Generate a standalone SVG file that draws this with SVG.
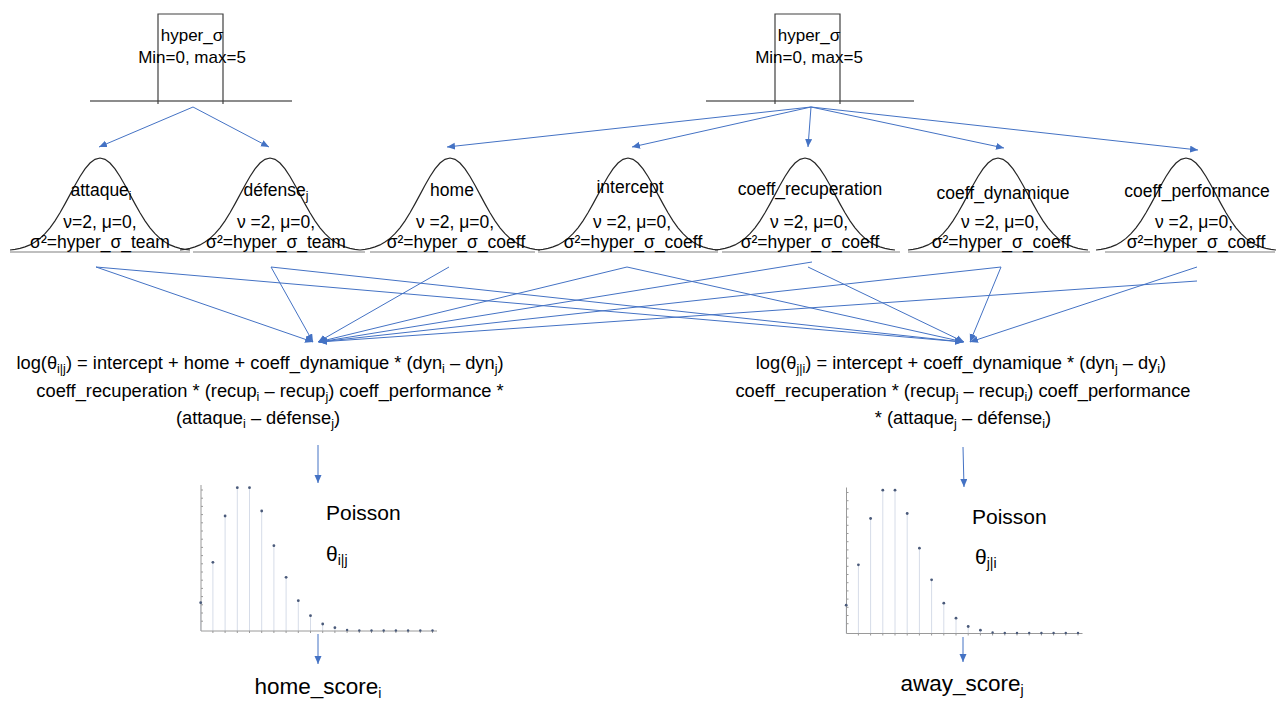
<svg xmlns="http://www.w3.org/2000/svg" xmlns:xlink="http://www.w3.org/1999/xlink" width="1280" height="720" viewBox="0 0 1280 720">
<style>
text{font-family:"Liberation Sans","DejaVu Sans",sans-serif;fill:#000}
.h{font-size:17px}
.b{font-size:17.5px}
.f{font-size:18.3px}
.big{font-size:21px}
.sc{font-size:22.5px}
.bell{fill:none;stroke:#262626;stroke-width:1.2}
.base{stroke:#bfbfbf;stroke-width:2}
.hb{stroke:#8c8c8c;stroke-width:2}
.box{fill:none;stroke:#404040;stroke-width:1.2}
.c{stroke:#4472C4;stroke-width:1;fill:none;marker-end:url(#ah)}
.ax{stroke:#9a9a9a;stroke-width:1;fill:none}
.stem{stroke:#d6dce8;stroke-width:1}
.dot{fill:#4a5a7a}
</style>
<defs>
<marker id="ah" markerUnits="userSpaceOnUse" markerWidth="9" markerHeight="8" refX="8" refY="3.5" orient="auto">
<path d="M0,0 L8,3.5 L0,7 z" fill="#4472C4"/>
</marker>
<path id="bellp" d="M-90,-1 L-85,-1.7 L-80,-2.7 L-75,-4.1 L-70,-6.1 L-65,-8.9 L-60,-12.6 L-55,-17.3 L-50,-23.2 L-45,-30.2 L-40,-38.2 L-35,-47.1 L-30,-56.4 L-25,-65.7 L-20,-74.5 L-15,-82.1 L-10,-88 L-5,-91.7 L0,-93 L5,-91.7 L10,-88 L15,-82.1 L20,-74.5 L25,-65.7 L30,-56.4 L35,-47.1 L40,-38.2 L45,-30.2 L50,-23.2 L55,-17.3 L60,-12.6 L65,-8.9 L70,-6.1 L75,-4.1 L80,-2.7 L85,-1.7 L90,-1"/>
<g id="chart">
<line class="stem" x1="200.7" y1="631" x2="200.7" y2="602.7"/>
<line class="stem" x1="212.9" y1="631" x2="212.9" y2="562.3"/>
<line class="stem" x1="225.1" y1="631" x2="225.1" y2="516"/>
<line class="stem" x1="237.3" y1="631" x2="237.3" y2="487.7"/>
<line class="stem" x1="249.5" y1="631" x2="249.5" y2="487.7"/>
<line class="stem" x1="261.7" y1="631" x2="261.7" y2="511"/>
<line class="stem" x1="273.9" y1="631" x2="273.9" y2="545.7"/>
<line class="stem" x1="286.1" y1="631" x2="286.1" y2="577.3"/>
<line class="stem" x1="298.3" y1="631" x2="298.3" y2="600.7"/>
<line class="stem" x1="310.5" y1="631" x2="310.5" y2="615.7"/>
<line class="stem" x1="322.7" y1="631" x2="322.7" y2="624"/>
<line class="stem" x1="334.9" y1="631" x2="334.9" y2="627.7"/>
<path class="ax" d="M201,485 V631 H437"/>
<path class="ax" d="M201,490 h2 M201,498.2 h2 M201,506.4 h2 M201,514.6 h2 M201,522.8 h2 M201,531 h2 M201,539.2 h2 M201,547.4 h2 M201,555.6 h2 M201,563.8 h2 M201,572 h2 M201,580.2 h2 M201,588.4 h2 M201,596.6 h2 M201,604.8 h2 M201,613 h2 M201,621.2 h2"/>
<path class="ax" d="M212.9,631 v2 M225.1,631 v2 M237.3,631 v2 M249.5,631 v2 M261.7,631 v2 M273.9,631 v2 M286.1,631 v2 M298.3,631 v2 M310.5,631 v2 M322.7,631 v2 M334.9,631 v2 M347.1,631 v2 M359.3,631 v2 M371.5,631 v2 M383.7,631 v2 M395.9,631 v2 M408.1,631 v2 M420.3,631 v2 M432.5,631 v2"/>
<circle class="dot" cx="200.7" cy="602.7" r="1.4"/>
<circle class="dot" cx="212.9" cy="562.3" r="1.4"/>
<circle class="dot" cx="225.1" cy="516" r="1.4"/>
<circle class="dot" cx="237.3" cy="487.7" r="1.4"/>
<circle class="dot" cx="249.5" cy="487.7" r="1.4"/>
<circle class="dot" cx="261.7" cy="511" r="1.4"/>
<circle class="dot" cx="273.9" cy="545.7" r="1.4"/>
<circle class="dot" cx="286.1" cy="577.3" r="1.4"/>
<circle class="dot" cx="298.3" cy="600.7" r="1.4"/>
<circle class="dot" cx="310.5" cy="615.7" r="1.4"/>
<circle class="dot" cx="322.7" cy="624" r="1.4"/>
<circle class="dot" cx="334.9" cy="627.7" r="1.4"/>
<circle class="dot" cx="347.1" cy="630" r="1.2"/>
<circle class="dot" cx="359.3" cy="630.5" r="1.2"/>
<circle class="dot" cx="371.5" cy="630.5" r="1.2"/>
<circle class="dot" cx="383.7" cy="630.5" r="1.2"/>
<circle class="dot" cx="395.9" cy="630.5" r="1.2"/>
<circle class="dot" cx="408.1" cy="630.5" r="1.2"/>
<circle class="dot" cx="420.3" cy="630.5" r="1.2"/>
<circle class="dot" cx="432.5" cy="630.5" r="1.2"/>
</g>
</defs>
<rect width="1280" height="720" fill="#fff"/>

<g id="hyper_left">
<line class="hb" x1="90" y1="101" x2="292" y2="101"/>
<path class="box" d="M158,104 V14 H223 V104"/>
<text class="h" x="192" y="41" text-anchor="middle">hyper_σ</text>
<text class="h" x="192" y="63" text-anchor="middle">Min=0, max=5</text>
</g>
<g id="hyper_right">
<line class="hb" x1="706" y1="101" x2="914" y2="101"/>
<path class="box" d="M775,104 V14 H840 V104"/>
<text class="h" x="809" y="41" text-anchor="middle">hyper_σ</text>
<text class="h" x="809" y="63" text-anchor="middle">Min=0, max=5</text>
</g>

<g id="attaque">
<line class="base" x1="10" y1="252" x2="190" y2="252"/>
<use href="#bellp" class="bell" transform="translate(100,251)"/>
<text class="b" x="101" y="196" text-anchor="middle">attaque<tspan font-size="12" dy="4">i</tspan></text>
<text class="b" x="100" y="228" text-anchor="middle">ν=2, μ=0,</text>
<text class="b" x="100" y="248" text-anchor="middle">σ²=hyper_σ_team</text>
</g>
<g id="defense">
<line class="base" x1="193" y1="252" x2="365" y2="252"/>
<use href="#bellp" class="bell" transform="translate(270,251)"/>
<text class="b" x="276" y="196" text-anchor="middle">défense<tspan font-size="12" dy="4">j</tspan></text>
<text class="b" x="276" y="228" text-anchor="middle">ν =2, μ=0,</text>
<text class="b" x="276" y="248" text-anchor="middle">σ²=hyper_σ_team</text>
</g>
<g id="home">
<line class="base" x1="370" y1="252" x2="535" y2="252"/>
<use href="#bellp" class="bell" transform="translate(450,251)"/>
<text class="b" x="452" y="196" text-anchor="middle">home</text>
<text class="b" x="455" y="228" text-anchor="middle">ν =2, μ=0,</text>
<text class="b" x="456" y="248" text-anchor="middle">σ²=hyper_σ_coeff</text>
</g>
<g id="intercept">
<line class="base" x1="538" y1="252" x2="718" y2="252"/>
<use href="#bellp" class="bell" transform="translate(628,251)"/>
<text class="b" x="630" y="193" text-anchor="middle">intercept</text>
<text class="b" x="632" y="228" text-anchor="middle">ν =2, μ=0,</text>
<text class="b" x="633" y="248" text-anchor="middle">σ²=hyper_σ_coeff</text>
</g>
<g id="coeff_recuperation">
<line class="base" x1="722" y1="252" x2="900" y2="252"/>
<use href="#bellp" class="bell" transform="translate(805,251)"/>
<text class="b" x="810" y="195" text-anchor="middle">coeff_recuperation</text>
<text class="b" x="809" y="228" text-anchor="middle">ν =2, μ=0,</text>
<text class="b" x="810" y="248" text-anchor="middle">σ²=hyper_σ_coeff</text>
</g>
<g id="coeff_dynamique">
<line class="base" x1="908" y1="252" x2="1090" y2="252"/>
<use href="#bellp" class="bell" transform="translate(998,251)"/>
<text class="b" x="1003" y="199" text-anchor="middle">coeff_dynamique</text>
<text class="b" x="1000" y="228" text-anchor="middle">ν =2, μ=0,</text>
<text class="b" x="1001" y="248" text-anchor="middle">σ²=hyper_σ_coeff</text>
</g>
<g id="coeff_performance">
<line class="base" x1="1105" y1="252" x2="1275" y2="252"/>
<use href="#bellp" class="bell" transform="translate(1186,251)"/>
<text class="b" x="1197" y="197" text-anchor="middle">coeff_performance</text>
<text class="b" x="1194" y="228" text-anchor="middle">ν =2, μ=0,</text>
<text class="b" x="1196" y="248" text-anchor="middle">σ²=hyper_σ_coeff</text>
</g>

<g id="formula_home">
<text class="f" x="260" y="369" text-anchor="middle">log(θ<tspan font-size="12.5" dy="4">i|j</tspan><tspan dy="-4">) = intercept + home + coeff_dynamique * (dyn</tspan><tspan font-size="12.5" dy="4">i</tspan><tspan dy="-4"> – dyn</tspan><tspan font-size="12.5" dy="4">j</tspan><tspan dy="-4">)</tspan></text>
<text class="f" x="270" y="397" text-anchor="middle">coeff_recuperation * (recup<tspan font-size="12.5" dy="4">i</tspan><tspan dy="-4"> – recup</tspan><tspan font-size="12.5" dy="4">j</tspan><tspan dy="-4">) coeff_performance *</tspan></text>
<text class="f" x="258" y="424" text-anchor="middle">(attaque<tspan font-size="12.5" dy="4">i</tspan><tspan dy="-4"> – défense</tspan><tspan font-size="12.5" dy="4">j</tspan><tspan dy="-4">)</tspan></text>
</g>
<g id="formula_away">
<text class="f" x="961" y="369" text-anchor="middle">log(θ<tspan font-size="12.5" dy="4">j|i</tspan><tspan dy="-4">) = intercept + coeff_dynamique * (dyn</tspan><tspan font-size="12.5" dy="4">j</tspan><tspan dy="-4"> – dy</tspan><tspan font-size="12.5" dy="4">i</tspan><tspan dy="-4">)</tspan></text>
<text class="f" x="963" y="397" text-anchor="middle">coeff_recuperation * (recup<tspan font-size="12.5" dy="4">j</tspan><tspan dy="-4"> – recup</tspan><tspan font-size="12.5" dy="4">i</tspan><tspan dy="-4">) coeff_performance</tspan></text>
<text class="f" x="963" y="424" text-anchor="middle">* (attaque<tspan font-size="12.5" dy="4">j</tspan><tspan dy="-4"> – défense</tspan><tspan font-size="12.5" dy="4">i</tspan><tspan dy="-4">)</tspan></text>
</g>

<g id="poisson_home">
<use href="#chart"/>
<text class="big" x="326" y="520">Poisson</text>
<text class="big" x="326" y="561">θ<tspan font-size="14" dy="4">i|j</tspan></text>
</g>
<g id="poisson_away">
<use href="#chart" transform="translate(645.5,2.5)"/>
<text class="big" x="972" y="524">Poisson</text>
<text class="big" x="975" y="564">θ<tspan font-size="14" dy="4">j|i</tspan></text>
</g>

<g id="home_score">
<text class="sc" x="318" y="694" text-anchor="middle">home_score<tspan font-size="14" dy="4">i</tspan></text>
</g>
<g id="away_score">
<text class="sc" x="962" y="691" text-anchor="middle">away_score<tspan font-size="14" dy="4">j</tspan></text>
</g>

<g id="connectors">
<line class="c" x1="193" y1="107" x2="99" y2="147"/>
<line class="c" x1="193" y1="107" x2="269" y2="147"/>
<line class="c" x1="811" y1="107" x2="447" y2="147"/>
<line class="c" x1="811" y1="107" x2="632" y2="147"/>
<line class="c" x1="811" y1="107" x2="808" y2="147"/>
<line class="c" x1="811" y1="107" x2="1004" y2="148"/>
<line class="c" x1="811" y1="107" x2="1198" y2="150"/>

<line class="c" x1="96" y1="267" x2="313" y2="342"/>
<line class="c" x1="96" y1="267" x2="963" y2="342"/>
<line class="c" x1="271" y1="267" x2="313" y2="342"/>
<line class="c" x1="271" y1="267" x2="963" y2="342"/>
<line class="c" x1="449" y1="267" x2="318" y2="342"/>
<line class="c" x1="627" y1="267" x2="318" y2="342"/>
<line class="c" x1="627" y1="267" x2="964" y2="342"/>
<line class="c" x1="812" y1="262" x2="319" y2="342"/>
<line class="c" x1="808" y1="267" x2="964" y2="342"/>
<line class="c" x1="1001" y1="267" x2="319" y2="342"/>
<line class="c" x1="1001" y1="267" x2="970" y2="342"/>
<line class="c" x1="1197" y1="267" x2="970" y2="342"/>
<line class="c" x1="1197" y1="281" x2="319" y2="342"/>

<line class="c" x1="318" y1="445" x2="318" y2="483"/>
<line class="c" x1="963" y1="447" x2="964" y2="487"/>
<line class="c" x1="318" y1="634" x2="318" y2="664"/>
<line class="c" x1="963" y1="637" x2="963" y2="662"/>
</g>
</svg>
